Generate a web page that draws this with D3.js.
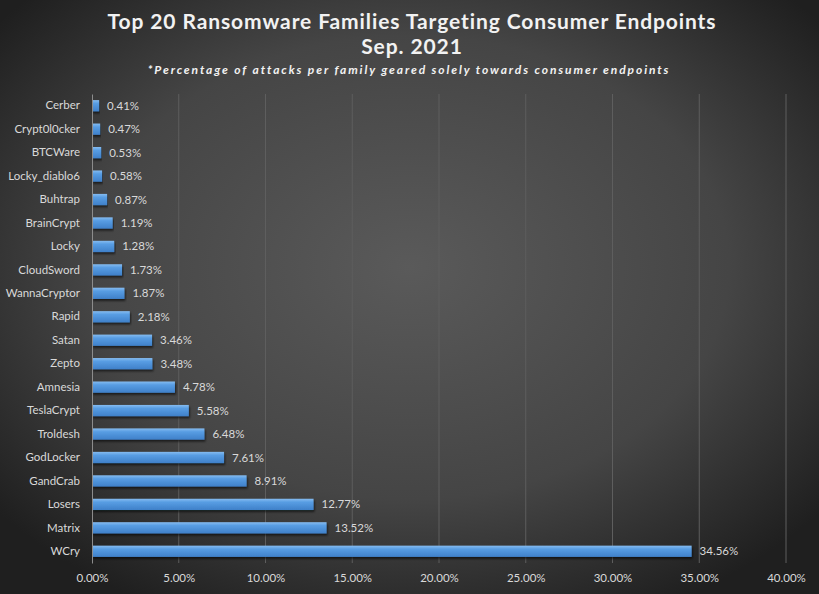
<!DOCTYPE html>
<html>
<head>
  <meta http-equiv="Content-Type" content="text/html;charset=utf-8">
  <title>Top 20 Ransomware Families</title>
  <script src="https://cdn.jsdelivr.net/npm/d3@7/dist/d3.min.js"></script>
  <style>
    body { margin: 0; background: #2b2b2b; }
    #chart { width: 819px; height: 594px; }
    text { font-family: Lato, 'Open Sans', sans-serif; }
  </style>
</head>
<body>
<div id="chart"></div>
<script>
  // families, top of chart first
  var families = ["Cerber", "Crypt0l0cker", "BTCWare", "Locky_diablo6", "Buhtrap",
    "BrainCrypt", "Locky", "CloudSword", "WannaCryptor", "Rapid", "Satan", "Zepto",
    "Amnesia", "TeslaCrypt", "Troldesh", "GodLocker", "GandCrab", "Losers", "Matrix", "WCry"];
  var shares = [0.41, 0.47, 0.53, 0.58, 0.87, 1.19, 1.28, 1.73, 1.87, 2.18, 3.46, 3.48,
    4.78, 5.58, 6.48, 7.61, 8.91, 12.77, 13.52, 34.56];
  var ticks = [0, 5, 10, 15, 20, 25, 30, 35, 40];

  var W = 819, H = 594;
  var margin = {top: 94, right: 33, bottom: 31, left: 92};

  var svg = d3.select("#chart").append("svg")
    .attr("width", W).attr("height", H);

  var defs = svg.append("defs");
  var bg = defs.append("radialGradient").attr("id", "bg")
    .attr("cx", "50%").attr("cy", "45%").attr("r", "65%");
  bg.append("stop").attr("offset", "0%").attr("stop-color", "#5a5a5a");
  bg.append("stop").attr("offset", "60%").attr("stop-color", "#454545");
  bg.append("stop").attr("offset", "100%").attr("stop-color", "#1f1f1f");

  var barGrad = defs.append("linearGradient").attr("id", "barGrad")
    .attr("x1", 0).attr("y1", 0).attr("x2", 0).attr("y2", 1);
  barGrad.append("stop").attr("offset", "0%").attr("stop-color", "#86bcf0");
  barGrad.append("stop").attr("offset", "30%").attr("stop-color", "#589de3");
  barGrad.append("stop").attr("offset", "100%").attr("stop-color", "#3f80c9");

  var shadow = defs.append("filter").attr("id", "shadow")
    .attr("x", "-5%").attr("y", "-30%").attr("width", "110%").attr("height", "180%");
  shadow.append("feDropShadow").attr("dx", 1).attr("dy", 2)
    .attr("stdDeviation", 1).attr("flood-color", "#000").attr("flood-opacity", 0.6);

  svg.append("rect").attr("width", W).attr("height", H).attr("fill", "url(#bg)");

  // titles
  svg.append("text").attr("x", 412).attr("y", 29)
    .attr("text-anchor", "middle").attr("fill", "#f2f2f2")
    .attr("font-size", 21).attr("font-weight", "bold").attr("letter-spacing", 0.9)
    .text("Top 20 Ransomware Families Targeting Consumer Endpoints");
  svg.append("text").attr("x", 412).attr("y", 54)
    .attr("text-anchor", "middle").attr("fill", "#f2f2f2")
    .attr("font-size", 21).attr("font-weight", "bold").attr("letter-spacing", 0.9)
    .text("Sep. 2021");
  svg.append("text").attr("x", 409).attr("y", 74)
    .attr("text-anchor", "middle").attr("fill", "#f2f2f2")
    .attr("font-size", 12).attr("font-weight", "bold").attr("font-style", "italic")
    .attr("letter-spacing", 1.9)
    .text("*Percentage of attacks per family geared solely towards consumer endpoints");

  var x = d3.scaleLinear().domain([0, 40]).range([margin.left, W - margin.right]);
  var y = d3.scaleBand().domain(families)
    .range([margin.top, H - margin.bottom]).paddingInner(0.52).paddingOuter(0.26);

  // gridlines
  svg.append("g").selectAll("line").data(ticks.slice(1)).join("line")
    .attr("x1", d => x(d)).attr("x2", d => x(d))
    .attr("y1", margin.top).attr("y2", H - margin.bottom)
    .attr("stroke", "#5e5e5e").attr("stroke-width", 1);

  // x axis tick labels
  var xAxis = d3.axisBottom(x).tickValues(ticks).tickSize(0)
    .tickFormat(d => d.toFixed(2) + "%");
  var gx = svg.append("g").attr("transform", "translate(0," + (H - margin.bottom + 8) + ")")
    .call(xAxis);
  gx.select(".domain").remove();
  gx.selectAll("text").attr("fill", "#d9d9d9").attr("font-size", 11.5)
    .attr("font-family", "Lato, 'Open Sans', sans-serif");

  // bars
  svg.append("g").selectAll("rect").data(families).join("rect")
    .attr("x", x(0))
    .attr("y", d => y(d))
    .attr("width", (d, i) => x(shares[i]) - x(0))
    .attr("height", y.bandwidth())
    .attr("fill", "url(#barGrad)")
    .attr("filter", "url(#shadow)");

  // y axis
  var yAxis = d3.axisLeft(y).tickSize(0).tickPadding(12);
  var gy = svg.append("g").attr("transform", "translate(" + margin.left + ",0)").call(yAxis);
  gy.select(".domain").attr("stroke", "#8c8c8c");
  gy.selectAll("text").attr("fill", "#d9d9d9").attr("font-size", 11.5)
    .attr("font-family", "Lato, 'Open Sans', sans-serif");

  // value labels
  svg.append("g").selectAll("text").data(families).join("text")
    .attr("x", (d, i) => x(shares[i]) + 8)
    .attr("y", d => y(d) + y.bandwidth() / 2)
    .attr("dy", "0.35em")
    .attr("fill", "#d9d9d9").attr("font-size", 11.5)
    .text((d, i) => shares[i].toFixed(2) + "%");
</script>
</body>
</html>
